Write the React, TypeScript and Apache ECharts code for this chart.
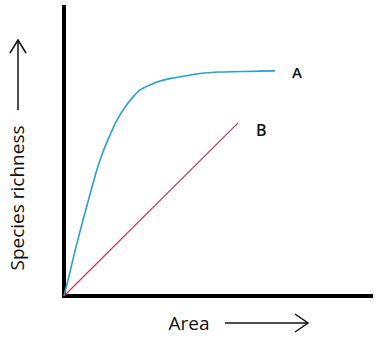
import React, { useEffect, useRef } from "react";
import * as echarts from "echarts";

// Curve A (saturating), arbitrary units 0..100
const areaA = [0, 1.95, 3.9, 6.2, 8.5, 10.7, 12.7, 14.3, 16.9, 19.9, 22.5, 24.8, 28.0, 31.3, 35.2, 39.4, 44.3, 50.8, 59.0, 68.7];
const richA = [0, 8.3, 17.0, 26.3, 35.3, 43.6, 49.8, 54.0, 60.2, 65.4, 68.9, 71.3, 73.0, 74.4, 75.4, 76.1, 77.0, 77.5, 77.7, 77.9];
// Line B (linear)
const areaB = [0, 56.7];
const richB = [0, 59.9];
const labelA = "A";
const labelB = "B";
const xTitle = "Area";
const yTitle = "Species richness";

export default function App() {
  const ref = useRef<HTMLDivElement>(null);
  useEffect(() => {
    if (!ref.current) return;
    const chart = echarts.init(ref.current, null, { renderer: "svg" });
    const font = "'Open Sans', 'DejaVu Sans', sans-serif";
    chart.setOption({
      animation: false,
      backgroundColor: "#ffffff",
      grid: { left: 64, top: 7, right: 9, bottom: 42 },
      xAxis: {
        type: "value",
        min: 0,
        max: 100,
        axisLine: { show: true, lineStyle: { color: "#000", width: 4, cap: "square" } },
        axisTick: { show: false },
        axisLabel: { show: false },
        splitLine: { show: false },
      },
      yAxis: {
        type: "value",
        min: 0,
        max: 100,
        axisLine: { show: true, lineStyle: { color: "#000", width: 4, cap: "square" } },
        axisTick: { show: false },
        axisLabel: { show: false },
        splitLine: { show: false },
      },
      series: [
        {
          type: "line",
          data: areaA.map((x, i) => [x, richA[i]]),
          smooth: 0.15,
          showSymbol: false,
          lineStyle: { color: "#2a9fd0", width: 1.6, join: "round" },
          endLabel: {
            show: true,
            formatter: labelA,
            distance: 17,
            color: "#111",
            fontSize: 15,
            fontWeight: 600,
            fontFamily: font,
            offset: [0, 1],
          },
        },
        {
          type: "line",
          data: areaB.map((x, i) => [x, richB[i]]),
          showSymbol: false,
          lineStyle: { color: "#c8384a", width: 1.2 },
          endLabel: {
            show: true,
            formatter: labelB,
            distance: 18,
            color: "#111",
            fontSize: 16,
            fontWeight: 600,
            fontFamily: font,
            offset: [0, 7],
          },
        },
      ],
      graphic: [
        {
          type: "text",
          x: 189,
          y: 323,
          style: { text: xTitle, fontSize: 19, fontFamily: font, fill: "#111", align: "center", verticalAlign: "middle" },
        },
        {
          type: "text",
          x: 17,
          y: 198,
          rotation: Math.PI / 2,
          style: { text: yTitle, fontSize: 19, fontFamily: font, fill: "#111", align: "center", verticalAlign: "middle" },
        },
        { type: "line", shape: { x1: 225, y1: 323, x2: 308, y2: 323 }, style: { stroke: "#111", lineWidth: 1.5 } },
        {
          type: "polyline",
          shape: { points: [[295, 314], [308, 323], [295, 332]] },
          style: { stroke: "#111", lineWidth: 1.5, fill: null },
        },
        { type: "line", shape: { x1: 18, y1: 110, x2: 18, y2: 40 }, style: { stroke: "#111", lineWidth: 1.5 } },
        {
          type: "polyline",
          shape: { points: [[10, 53], [18, 40], [26, 53]] },
          style: { stroke: "#111", lineWidth: 1.5, fill: null },
        },
      ],
    });
    return () => chart.dispose();
  }, []);
  return (
    <div
      ref={ref}
      style={{ position: "fixed", left: 0, top: 0, width: 380, height: 338, background: "#fff" }}
    />
  );
}
